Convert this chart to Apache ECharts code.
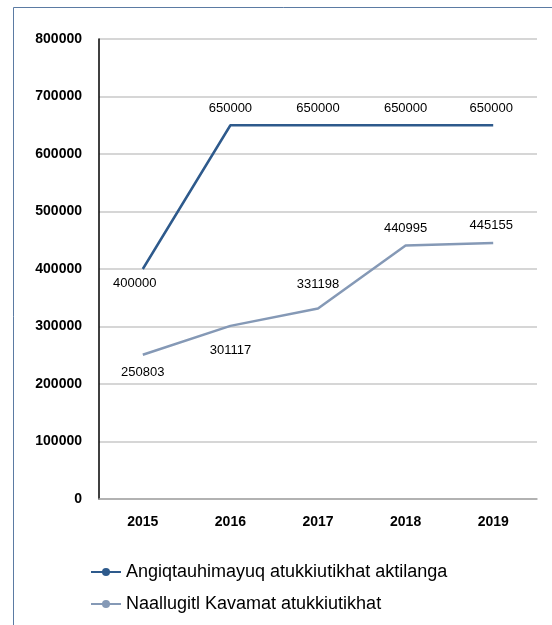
<!DOCTYPE html>
<html>
<head>
<meta charset="utf-8">
<script src="https://cdn.jsdelivr.net/npm/echarts@6/dist/echarts.min.js"></script>
<style>
  html, body { margin: 0; padding: 0; background: #fff; }
  #chart { width: 552px; height: 625px; }
</style>
</head>
<body>
<div id="chart"></div>
<script>
const years = ['2015', '2016', '2017', '2018', '2019']
const seriesNames = ['Angiqtauhimayuq atukkiutikhat aktilanga', 'Naallugitl Kavamat atukkiutikhat']
const aktilanga = [400000, 650000, 650000, 650000, 650000]
const kavamat = [250803, 301117, 331198, 440995, 445155]

const font = 'Liberation Sans, Arial, sans-serif'

const chart = echarts.init(document.getElementById('chart'))

// label placement per point: [position, distance, x offset]
const aktilangaLabels = [['bottom', 8, -8], ['top', 10, 0], ['top', 10, 0], ['top', 10, 0], ['top', 10, -2]]
const kavamatLabels = [['bottom', 11, 0], ['bottom', 18, 0], ['top', 18, 0], ['top', 11, 0], ['top', 11, -2]]

const labelled = (values, place) => values.map((v, i) => ({
    value: v,
    label: { position: place[i][0], distance: place[i][1], offset: [place[i][2], 0] }
}))

const option = {
    animation: false,
    textStyle: { fontFamily: font },
    graphic: [
        {
            type: 'rect',
            shape: { x: 13.5, y: 7.5, width: 600, height: 700 },
            style: { fill: 'none', stroke: '#5b7ba3', lineWidth: 1 },
            silent: true
        }
    ],
    grid: { left: 99, right: 15, top: 39, bottom: 126 },
    legend: {
        orient: 'vertical',
        left: 85,
        top: 558,
        itemGap: 14,
        itemWidth: 30,
        itemHeight: 10,
        textStyle: { fontSize: 18, color: '#000', fontFamily: font },
        data: seriesNames
    },
    xAxis: {
        type: 'category',
        data: years,
        boundaryGap: true,
        axisLine: { lineStyle: { color: '#a6a6a6', width: 1.5 } },
        axisTick: { show: false },
        axisLabel: { fontSize: 14, fontWeight: 'bold', color: '#000', margin: 16 }
    },
    yAxis: {
        type: 'value',
        min: 0,
        max: 800000,
        interval: 100000,
        axisLine: { show: true, lineStyle: { color: '#000', width: 1.5 } },
        axisTick: { show: false },
        splitLine: { lineStyle: { color: '#c8c8c8', width: 1.5 } },
        axisLabel: {
            fontSize: 14, fontWeight: 'bold', color: '#000', margin: 17,
            formatter: (v) => String(v)
        }
    },
    series: [
        {
            name: seriesNames[0],
            type: 'line',
            data: labelled(aktilanga, aktilangaLabels),
            symbol: 'circle',
            symbolSize: 0,
            color: '#2e5a8c',
            lineStyle: { width: 2.5, color: '#2e5a8c' },
            label: { show: true, fontSize: 13, color: '#000' },
            z: 3
        },
        {
            name: seriesNames[1],
            type: 'line',
            data: labelled(kavamat, kavamatLabels),
            symbol: 'circle',
            symbolSize: 0,
            color: '#8599b6',
            lineStyle: { width: 2.5, color: '#8599b6' },
            label: { show: true, fontSize: 13, color: '#000' },
            z: 2
        }
    ]
}

chart.setOption(option)
</script>
</body>
</html>
